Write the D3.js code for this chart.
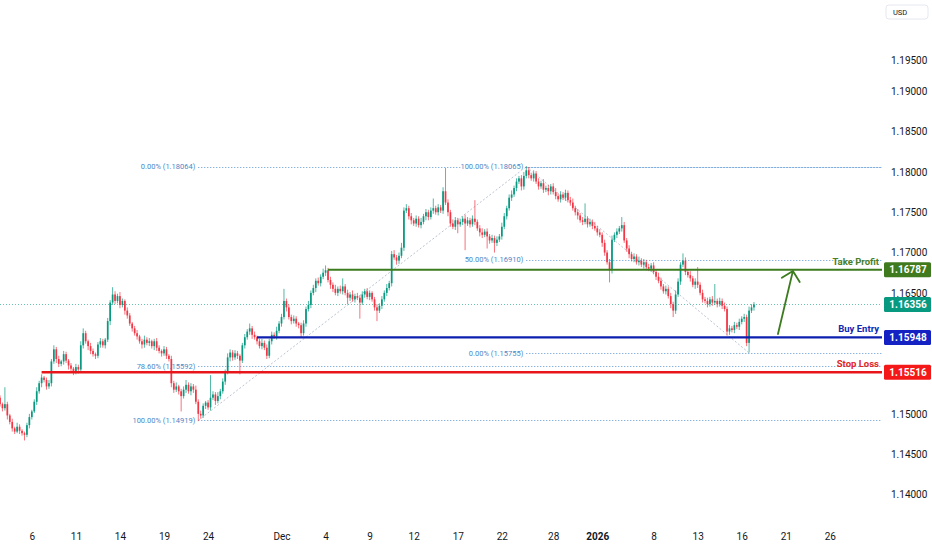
<!DOCTYPE html>
<html>
<head>
<meta charset="utf-8">
<script src="https://cdn.jsdelivr.net/npm/d3@7"></script>
<style>
  html, body { margin: 0; background: #fff; }
  svg { display: block; font-family: Roboto, "Noto Sans", sans-serif; }
</style>
</head>
<body>
<div id="chart"></div>
<script>
// 4H candles, open = previous close, wicks in pips beyond the body
const firstOpen = 1.152;
const closes = [
  1.1512,1.1507,1.1512,1.1498,1.1490,1.1482,1.1478,1.1484,1.1479,1.1476,
  1.1474,1.1486,1.1496,1.1503,1.1515,1.1528,1.1538,1.1545,1.1542,1.1534,
  1.1538,1.1565,1.1580,1.1568,1.1562,1.1565,1.1574,1.1566,1.1560,1.1556,
  1.1552,1.1558,1.1555,1.1585,1.1600,1.1590,1.1584,1.1578,1.1574,1.1572,
  1.1586,1.1590,1.1585,1.1592,1.1615,1.1638,1.1648,1.1640,1.1646,1.1635,
  1.1640,1.1628,1.1622,1.1612,1.1606,1.1600,1.1596,1.1590,1.1586,1.1592,
  1.1588,1.1590,1.1584,1.1590,1.1582,1.1578,1.1575,1.1580,1.1572,1.1568,
  1.1538,1.1530,1.1534,1.1528,1.1522,1.1530,1.1536,1.1528,1.1534,1.1530,
  1.1515,1.1500,1.1498,1.1510,1.1514,1.1508,1.1520,1.1524,1.1516,1.1522,
  1.1528,1.1540,1.1552,1.1570,1.1576,1.1570,1.1575,1.1572,1.1566,1.1585,
  1.1595,1.1602,1.1606,1.1598,1.1595,1.1590,1.1584,1.1588,1.1582,1.1572,
  1.1590,1.1598,1.1596,1.1603,1.1612,1.1620,1.1640,1.1632,1.1620,1.1615,
  1.1618,1.1612,1.1610,1.1600,1.1612,1.1630,1.1635,1.1650,1.1656,1.1665,
  1.1662,1.1670,1.1675,1.1678,1.1666,1.1660,1.1655,1.1650,1.1655,1.1652,
  1.1658,1.1650,1.1644,1.1648,1.1642,1.1646,1.1644,1.1638,1.1648,1.1652,
  1.1645,1.1650,1.1642,1.1632,1.1628,1.1634,1.1642,1.1650,1.1656,1.1662,
  1.1698,1.1694,1.1690,1.1696,1.1706,1.1752,1.1755,1.1745,1.1740,1.1736,
  1.1742,1.1734,1.1738,1.1745,1.1750,1.1744,1.1752,1.1755,1.1750,1.1756,
  1.1752,1.1776,1.1762,1.1750,1.1736,1.1732,1.1740,1.1735,1.1738,1.1742,
  1.1736,1.1740,1.1735,1.1742,1.1738,1.1730,1.1725,1.1722,1.1726,1.1720,
  1.1715,1.1718,1.1712,1.1716,1.1720,1.1732,1.1745,1.1755,1.1768,1.1772,
  1.1780,1.1788,1.1792,1.1782,1.1795,1.1802,1.1796,1.1792,1.1798,1.1788,
  1.1782,1.1786,1.1778,1.1780,1.1776,1.1782,1.1775,1.1770,1.1766,1.1772,
  1.1768,1.1774,1.1765,1.1762,1.1755,1.1750,1.1746,1.1740,1.1738,1.1742,
  1.1735,1.1738,1.1733,1.1730,1.1725,1.1722,1.1712,1.1700,1.1688,1.1678,
  1.1716,1.1722,1.1726,1.1730,1.1734,1.1715,1.1705,1.1698,1.1692,1.1695,
  1.1688,1.1690,1.1685,1.1688,1.1682,1.1680,1.1684,1.1676,1.1670,1.1665,
  1.1658,1.1652,1.1655,1.1646,1.1636,1.1628,1.1648,1.1664,1.1685,1.1690,
  1.1676,1.1672,1.1668,1.1660,1.1664,1.1660,1.1650,1.1642,1.1640,1.1636,
  1.1642,1.1638,1.1640,1.1636,1.1640,1.1634,1.1630,1.1602,1.1606,1.1604,
  1.1610,1.1608,1.1614,1.1618,1.1620,1.1588,1.1628,1.1632,1.16356
];
const wickHi = [
  3,2,21,3,2,4,2,5,3,2, 2,3,4,2,3,5,3,4,2,3, 4,3,5,3,4,2,4,3,2,3,
  2,4,3,5,6,3,2,4,3,2, 3,4,3,2,4,3,9,4,3,5, 3,2,4,3,2,3,4,2,3,5,
  3,4,2,3,4,3,2,4,3,2, 4,3,5,2,3,4,6,3,4,3, 5,3,4,3,2,3,28,4,3,5,
  3,4,3,5,4,3,4,3,2,3, 4,3,6,3,4,2,3,5,3,4, 3,4,3,5,3,4,15,3,4,3,
  4,3,2,3,4,3,5,3,4,3, 4,3,5,6,3,4,3,5,3,4, 10,3,4,3,5,3,4,3,4,3,
  4,3,2,3,4,3,4,3,5,3, 4,5,3,4,6,4,5,3,4,3, 4,3,5,3,4,3,4,12,3,4,
  3,5,29,4,3,5,4,3,4,3, 5,4,3,4,23,3,4,5,3,4, 3,4,3,4,3,5,4,3,4,5,
  3,4,3,4,5,5,4,3,4,3, 4,3,5,3,4,3,4,5,3,4, 3,4,3,4,5,3,4,3,4,19,
  3,4,3,5,3,4,3,4,3,4, 5,3,4,3,10,4,3,4,3,4, 3,5,3,4,3,4,3,4,3,5,
  4,3,4,3,4,3,5,4,3,9, 4,3,5,3,4,18,3,4,3,4, 3,4,21,3,4,3,4,3,4,3,
  4,3,4,3,4,3,5,4,3
];
const wickLo = [
  3,4,3,5,3,4,3,2,4,3, 7,3,4,3,2,4,3,5,3,4, 3,4,3,5,4,3,4,3,5,3,
  4,3,5,3,4,3,5,4,3,4, 3,4,3,4,3,5,3,4,3,4, 3,5,4,3,4,3,4,3,5,4,
  3,4,3,5,4,3,4,3,4,3, 5,4,3,4,19,3,4,3,5,4, 3,9,4,3,4,3,4,3,5,3,
  4,3,4,3,5,4,3,4,17,3, 4,3,4,5,3,4,3,4,3,4, 3,4,3,4,3,4,3,5,3,4,
  3,4,4,5,3,4,3,4,3,5, 3,4,3,4,3,5,4,3,4,3, 4,3,8,4,3,4,3,20,3,4,
  3,4,3,4,13,3,4,3,4,3, 4,3,5,4,3,4,3,4,5,3, 4,3,4,3,5,4,3,4,3,4,
  3,4,3,5,4,3,4,11,3,4, 33,3,4,3,4,3,5,4,3,15, 4,3,12,4,3,4,3,4,3,4,
  3,4,3,5,4,3,4,3,4,3, 4,3,4,3,5,4,3,4,3,4, 3,4,3,4,3,4,5,3,4,3,
  4,3,4,3,4,3,5,4,3,15, 4,3,4,3,4,3,4,5,3,4, 3,4,3,5,4,3,4,3,4,3,
  4,3,4,3,5,8,4,3,4,3, 4,3,4,3,5,4,3,4,3,4, 3,4,3,4,3,4,3,5,4,3,
  4,3,4,3,4,4,12,3,4
];

const xTickIndex = [13, 31, 49, 67, 85, 115, 133, 151, 169, 187, 205, 226, 244, 267, 285, 303, 321, 339];
const xTickLabels = ["6", "11", "14", "19", "24", "Dec", "4", "9", "12", "17", "22", "28", "2026", "8", "13", "16", "21", "26"];
const yTicks = [1.195, 1.19, 1.185, 1.18, 1.175, 1.17, 1.165, 1.15, 1.145, 1.14];

const levelNames = ["Take Profit", "Buy Entry", "Stop Loss"];
const levelPrices = [1.16787, 1.15948, 1.15516];
const levelStart = [134, 105, 17];
const lastPrice = 1.16356;

const fibLabels = ["0.00% (1.18064)", "78.60% (1.15592)", "100.00% (1.14919)", "100.00% (1.18065)", "50.00% (1.16910)", "0.00% (1.15755)"];
const fibPrices = [1.18064, 1.15592, 1.14919, 1.18065, 1.1691, 1.15755];
const fibStart = [81, 81, 81, 215, 215, 215];
const fibTrends = [[81, 1.14919, 215, 1.18064], [215, 1.18065, 306, 1.15755]];
const arrowPoints = [[317.8, 1.1599], [323.9, 1.16772]];

const levelColors = { line: ["#3d7b1f", "#0d1fae", "#e8161b"], text: ["#4a7f2a", "#1326b0", "#e3241f"], tag: ["#3f7a1e", "#1422c4", "#f51818"] };
const upColor = "#089981";
const downColor = "#f23645";
const fibColor = "#5a96d3";

const width = 932;
const height = 550;
const plotRight = 882;

const svg = d3.select("#chart").append("svg").attr("width", width).attr("height", height);

const x = d3.scaleLinear().domain([0, 340]).range([0, 832.3]);
const y = d3.scaleLinear().domain([1.14, 1.18]).range([494.5, 171.9]);

svg.append("clipPath").attr("id", "plot-clip")
  .append("rect").attr("x", 0).attr("y", 0).attr("width", plotRight).attr("height", 520);

const plot = svg.append("g").attr("clip-path", "url(#plot-clip)");

// fib trend diagonals
plot.selectAll(".trend")
  .data(fibTrends)
  .join("line")
  .attr("class", "trend")
  .attr("x1", (d) => x(d[0]))
  .attr("y1", (d) => y(d[1]))
  .attr("x2", (d) => x(d[2]))
  .attr("y2", (d) => y(d[3]))
  .attr("stroke", "#aab4c6")
  .attr("stroke-width", 0.8)
  .attr("stroke-dasharray", "2,2");

// fib level lines
plot.selectAll(".fib-line")
  .data(fibPrices)
  .join("line")
  .attr("class", "fib-line")
  .attr("x1", (d, i) => x(fibStart[i]))
  .attr("x2", plotRight)
  .attr("y1", (d) => Math.round(y(d)) + 0.5)
  .attr("y2", (d) => Math.round(y(d)) + 0.5)
  .attr("stroke", fibColor)
  .attr("stroke-width", 1)
  .attr("stroke-dasharray", "1,2");

plot.selectAll(".fib-text")
  .data(fibLabels)
  .join("text")
  .attr("class", "fib-text")
  .attr("x", (d, i) => x(fibStart[i]) - 3)
  .attr("y", (d, i) => y(fibPrices[i]))
  .attr("dy", "0.35em")
  .attr("text-anchor", "end")
  .attr("font-size", 7.5)
  .attr("fill", "#4a88c8")
  .attr("stroke", "#fff")
  .attr("stroke-width", 3)
  .attr("paint-order", "stroke")
  .text((d) => d);

// last price dotted line
plot.append("line")
  .attr("x1", 0)
  .attr("x2", plotRight)
  .attr("y1", Math.round(y(lastPrice)) + 0.5)
  .attr("y2", Math.round(y(lastPrice)) + 0.5)
  .attr("stroke", upColor)
  .attr("stroke-opacity", 0.6)
  .attr("stroke-dasharray", "1,2");

// candles
const candles = closes.map((c, i) => {
  const o = i ? closes[i - 1] : firstOpen;
  return {
    i, o, c,
    h: Math.max(o, c) + wickHi[i] / 1e4,
    l: Math.min(o, c) - wickLo[i] / 1e4,
  };
});

const candle = plot.selectAll(".candle")
  .data(candles)
  .join("g")
  .attr("class", "candle")
  .attr("fill", (d) => (d.c >= d.o ? upColor : downColor))
  .attr("stroke", (d) => (d.c >= d.o ? upColor : downColor));

candle.append("line")
  .attr("x1", (d) => x(d.i))
  .attr("x2", (d) => x(d.i))
  .attr("y1", (d) => y(d.h))
  .attr("y2", (d) => y(d.l))
  .attr("stroke-width", 0.7);

candle.append("rect")
  .attr("stroke", "none")
  .attr("x", (d) => x(d.i) - 0.85)
  .attr("width", 1.7)
  .attr("y", (d) => y(Math.max(d.o, d.c)))
  .attr("height", (d) => Math.max(0.8, Math.abs(y(d.o) - y(d.c))));

// trade levels
plot.selectAll(".level-line")
  .data(levelPrices)
  .join("line")
  .attr("class", "level-line")
  .attr("x1", (d, i) => x(levelStart[i]))
  .attr("x2", plotRight)
  .attr("y1", (d) => y(d))
  .attr("y2", (d) => y(d))
  .attr("stroke", (d, i) => levelColors.line[i])
  .attr("stroke-width", (d, i) => (i === 0 ? 2 : 2.3));

svg.selectAll(".level-text")
  .data(levelNames)
  .join("text")
  .attr("class", "level-text")
  .attr("x", 879)
  .attr("y", (d, i) => y(levelPrices[i]) - 5)
  .attr("text-anchor", "end")
  .attr("font-size", 9.5)
  .attr("font-weight", 700)
  .attr("fill", (d, i) => levelColors.text[i])
  .text((d) => d);

// target arrow
const [a0, a1] = arrowPoints.map((p) => [x(p[0]), y(p[1])]);
const ang = Math.atan2(a0[1] - a1[1], a0[0] - a1[0]);
const head = [ang - Math.PI / 4, ang + Math.PI / 4].map((t) => [a1[0] + 13 * Math.cos(t), a1[1] + 13 * Math.sin(t)]);
svg.append("path")
  .attr("d", d3.line()([a0, a1]) + "M" + head[0] + "L" + a1 + "L" + head[1])
  .attr("fill", "none")
  .attr("stroke", "#3d7b1f")
  .attr("stroke-width", 1.8)
  .attr("stroke-linecap", "round")
  .attr("stroke-linejoin", "round");

// price axis (top label sits below the currency badge)
const yAxis = svg.append("g")
  .attr("transform", `translate(${plotRight},0)`)
  .call(d3.axisRight(y).tickValues(yTicks).tickFormat(d3.format(".5f")).tickSize(0).tickPadding(9));
yAxis.select(".domain").remove();
yAxis.selectAll("text").attr("font-size", 10).attr("fill", "#131722").attr("font-family", "Roboto, sans-serif");
yAxis.selectAll(".tick")
  .filter((d) => y(d) < 60)
  .select("text")
  .attr("y", (d) => 60 - y(d));

// price tags
const tags = svg.selectAll(".tag")
  .data([...levelPrices, lastPrice])
  .join("g")
  .attr("class", "tag")
  .attr("transform", (d) => `translate(${plotRight + 2},${y(d)})`);
tags.append("rect")
  .attr("x", 0)
  .attr("y", -7.5)
  .attr("width", 47)
  .attr("height", 15)
  .attr("rx", 1.5)
  .attr("fill", (d, i) => (i < 3 ? levelColors.tag[i] : upColor));
tags.append("text")
  .attr("x", 24)
  .attr("dy", "0.36em")
  .attr("text-anchor", "middle")
  .attr("font-size", 10)
  .attr("font-weight", 700)
  .attr("fill", "#fff")
  .text((d) => d3.format(".5f")(d));

// currency badge
const usd = svg.append("g").attr("transform", "translate(886,5)");
usd.append("rect")
  .attr("width", 42)
  .attr("height", 14)
  .attr("rx", 3)
  .attr("fill", "#fff")
  .attr("stroke", "#e6e8ee");
usd.append("text")
  .attr("x", 7)
  .attr("y", 7)
  .attr("dy", "0.35em")
  .attr("font-size", 7.5)
  .attr("fill", "#131722")
  .text("USD");

// time axis
const xAxis = svg.append("g")
  .attr("transform", "translate(0,530)")
  .call(d3.axisBottom(x).tickValues(xTickIndex).tickFormat((d, i) => xTickLabels[i]).tickSize(0).tickPadding(3));
xAxis.select(".domain").remove();
xAxis.selectAll("text")
  .attr("font-size", 10)
  .attr("fill", "#131722")
  .attr("font-family", "Roboto, sans-serif")
  .attr("font-weight", (d, i) => (xTickLabels[i] === "2026" ? 700 : 400));
</script>
</body>
</html>
